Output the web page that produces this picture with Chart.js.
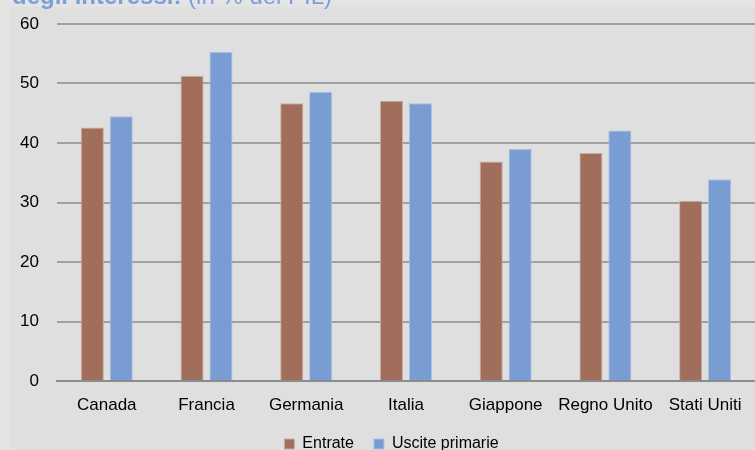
<!DOCTYPE html>
<html>
<head>
<meta charset="utf-8">
<script src="https://cdn.jsdelivr.net/npm/chart.js@4"></script>
<style>
	body { margin: 0; background: #dfdfdf; }
	#contenedor { position: relative; width: 755px; height: 450px; }
</style>
</head>
<body>
<div id="contenedor">
	<canvas id="miGrafico" width="755" height="450"></canvas>
</div>
<script>
// datos
const paises = ['Canada', 'Francia', 'Germania', 'Italia', 'Giappone', 'Regno Unito', 'Stati Uniti'];
const entrate = [42.6, 51.3, 46.7, 47.1, 36.9, 38.3, 30.3];
const uscitePrimarie = [44.5, 55.3, 48.6, 46.7, 39.0, 42.1, 33.9];
const ticksY = [0, 10, 20, 30, 40, 50, 60];

const titulo = 'degli interessi:';
const subtitulo = ' (in % del PIL)';

const fuente = '"Liberation Sans", Arial, sans-serif';

// fondo y titulo cortado arriba
const fondo = {
	id: 'fondo',
	beforeDraw(chart) {
		const ctx = chart.ctx;
		ctx.save();
		ctx.fillStyle = '#dfdfdf';
		ctx.fillRect(0, 0, chart.width, chart.height);
		ctx.fillStyle = '#e4e4e4';
		ctx.fillRect(0, 0, chart.width, 7);
		ctx.fillRect(0, 0, 10, chart.height);
		ctx.fillStyle = '#7b9fd9';
		ctx.textBaseline = 'alphabetic';
		ctx.font = 'bold 24px ' + fuente;
		ctx.fillText(titulo, 12, 4);
		const w = ctx.measureText(titulo).width;
		ctx.font = '24px ' + fuente;
		ctx.fillText(subtitulo, 12 + w, 4);
		ctx.restore();
	}
};

// mover la leyenda un poco a la derecha
const moverLeyenda = {
	id: 'moverLeyenda',
	afterLayout(chart) {
		chart.legend.left += 13;
		chart.legend.right += 13;
	}
};

const ctx = document.getElementById('miGrafico').getContext('2d');
const myChart = new Chart(ctx, {
	type: 'bar',
	data: {
		labels: paises,
		datasets: [{
			label: 'Entrate',
			data: entrate,
			backgroundColor: '#a06e5a',
			borderColor: '#c9aea4',
			borderWidth: 1
		}, {
			label: 'Uscite primarie',
			data: uscitePrimarie,
			backgroundColor: '#799cd3',
			borderColor: '#a9c0e4',
			borderWidth: 1
		}]
	},
	options: {
		responsive: false,
		animation: false,
		layout: { padding: { top: 24, right: 0, bottom: -12, left: 2 } },
		datasets: {
			bar: { categoryPercentage: 0.58, barPercentage: 0.8 }
		},
		plugins: {
			legend: {
				position: 'bottom',
				labels: {
					boxWidth: 10,
					boxHeight: 10,
					padding: 20,
					color: '#000',
					font: { family: fuente, size: 16 }
				}
			},
			tooltip: { enabled: false }
		},
		scales: {
			x: {
				grid: { display: false },
				border: { color: '#8c8c8c', width: 2 },
				afterFit(scale) {
					scale.height = 35;
				},
				ticks: {
					color: '#000',
					padding: 6,
					maxRotation: 0,
					font: { family: fuente, size: 17 }
				}
			},
			y: {
				min: 0,
				max: 60,
				afterBuildTicks(axis) {
					axis.ticks = ticksY.map(v => ({ value: v }));
				},
				afterFit(scale) {
					scale.paddingTop = 0;
					scale.paddingBottom = 0;
				},
				grid: { color: '#a0a0a0', lineWidth: 2, drawTicks: false },
				border: { display: false },
				ticks: {
					color: '#000',
					padding: 18,
					font: { family: fuente, size: 17 }
				}
			}
		}
	},
	plugins: [fondo, moverLeyenda]
});
</script>
</body>
</html>
